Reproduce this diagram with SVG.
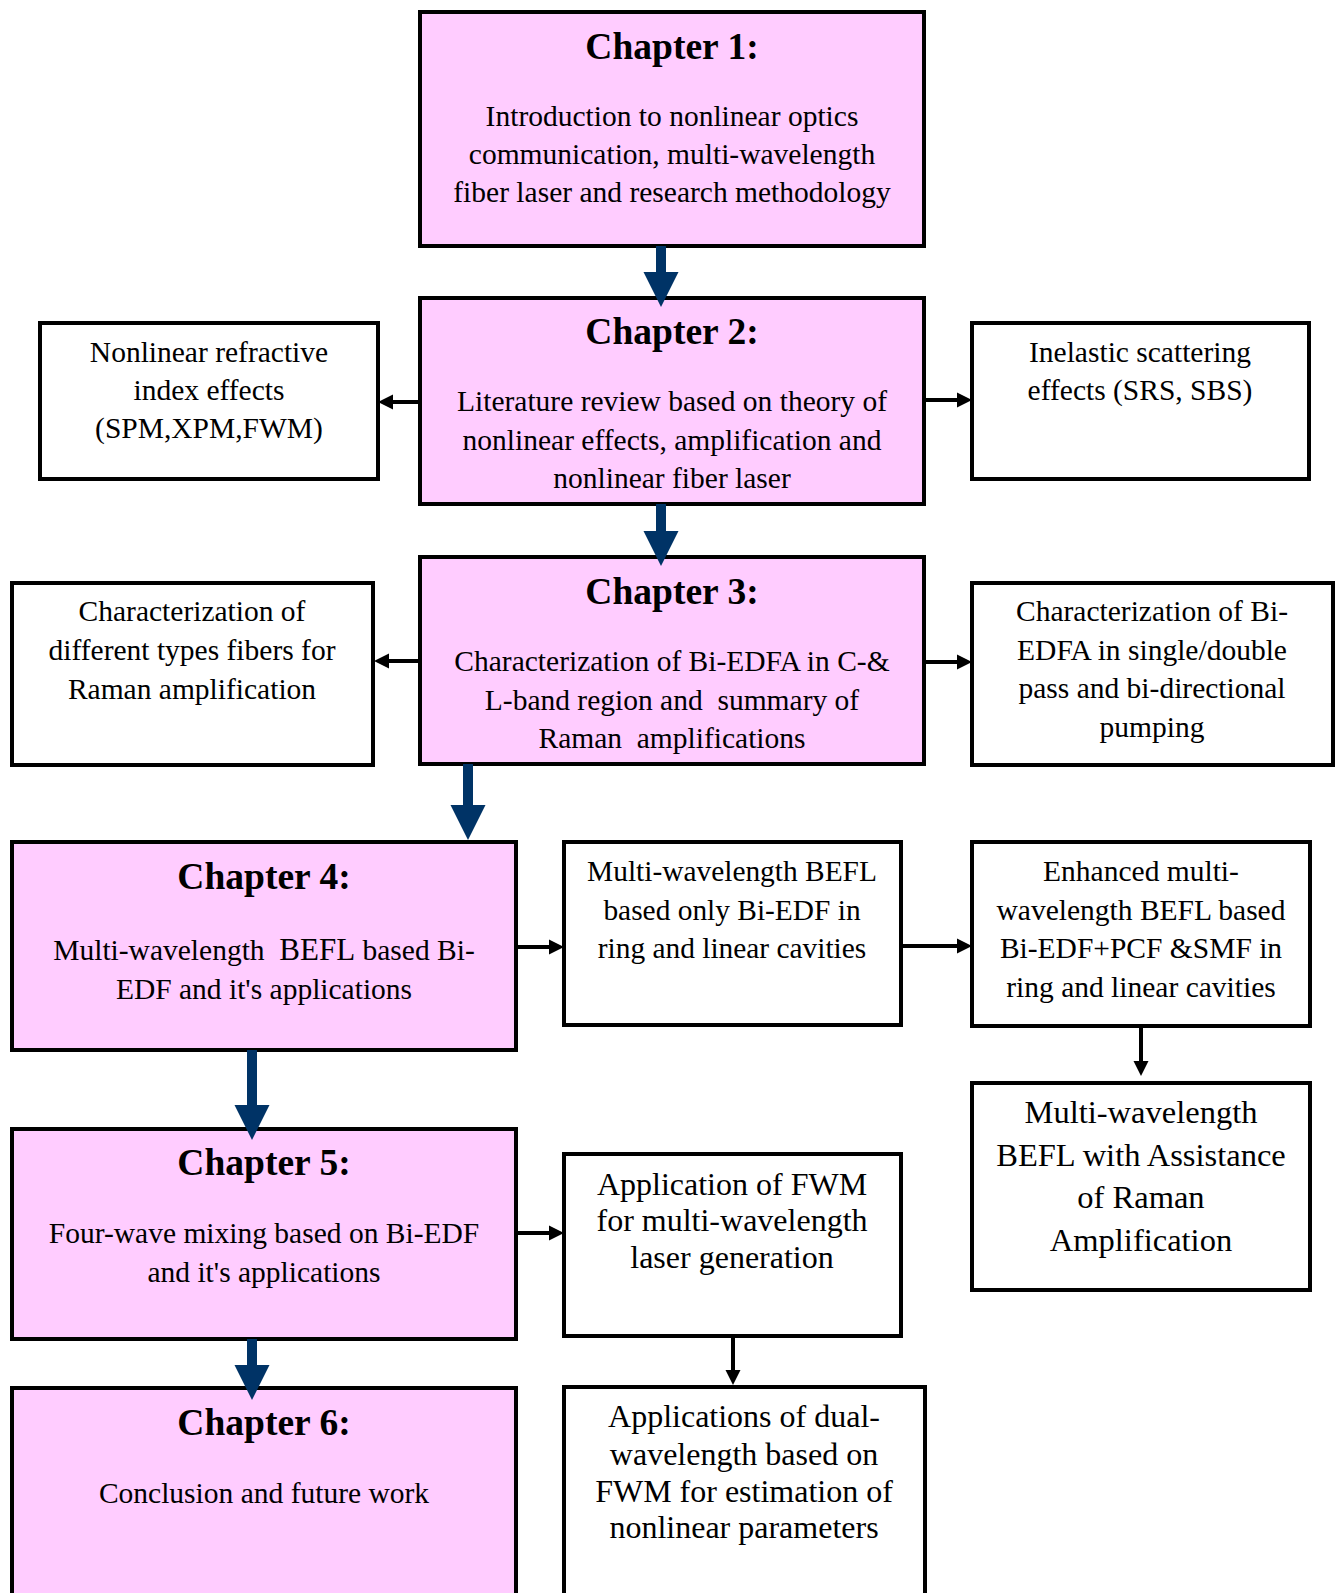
<svg xmlns="http://www.w3.org/2000/svg" width="1338" height="1593" viewBox="0 0 1338 1593">
<style>
.ch{fill:#FFCCFF;stroke:#000;stroke-width:4}
.bx{fill:#fff;stroke:#000;stroke-width:4}
text{font-family:"Liberation Serif","Times New Roman",serif;fill:#000;text-anchor:middle;white-space:pre}
.h{font-size:37.5px;font-weight:bold}
.t{font-size:29.5px}
.t28{font-size:29.4px}
.t30{font-size:32px}
.t33{font-size:32.5px}
.blk{stroke:#000;stroke-width:4;fill:none;marker-end:url(#ah)}
.blu{stroke:#003366;stroke-width:10;fill:none;marker-end:url(#bh)}
</style>
<defs>
<marker id="ah" markerUnits="userSpaceOnUse" markerWidth="16" markerHeight="16" refX="3" refY="7.5" orient="auto" overflow="visible">
<path d="M0,0 L15,7.5 L0,15 z" fill="#000"/>
</marker>
<marker id="bh" markerUnits="userSpaceOnUse" markerWidth="36" markerHeight="36" refX="1" refY="17.5" orient="auto" overflow="visible">
<path d="M0,0 L35,17.5 L0,35 z" fill="#003366"/>
</marker>
</defs>
<rect width="1338" height="1593" fill="#fff"/>

<g id="ch1">
<rect class="ch" x="420" y="12" width="504" height="234"/>
<text class="h" x="672" y="59">Chapter 1:</text>
<text class="t" x="672" y="126">Introduction to nonlinear optics</text>
<text class="t" x="672" y="164">communication, multi-wavelength</text>
<text class="t" x="672" y="202">fiber laser and research methodology</text>
</g>

<g id="ch2">
<rect class="ch" x="420" y="298" width="504" height="206"/>
<text class="h" x="672" y="344">Chapter 2:</text>
<text class="t" x="672" y="411">Literature review based on theory of</text>
<text class="t" x="672" y="450">nonlinear effects, amplification and</text>
<text class="t" x="672" y="488">nonlinear fiber laser</text>
</g>

<g id="nl-index">
<rect class="bx" x="40" y="323" width="338" height="156"/>
<text class="t" x="209" y="362">Nonlinear refractive</text>
<text class="t" x="209" y="400">index effects</text>
<text class="t" x="209" y="438">(SPM,XPM,FWM)</text>
</g>

<g id="inelastic">
<rect class="bx" x="972" y="323" width="337" height="156"/>
<text class="t" x="1140" y="362">Inelastic scattering</text>
<text class="t" x="1140" y="400">effects (SRS, SBS)</text>
</g>

<g id="ch3">
<rect class="ch" x="420" y="557" width="504" height="207"/>
<text class="h" x="672" y="604">Chapter 3:</text>
<text class="t" x="672" y="671">Characterization of Bi-EDFA in C-&amp;</text>
<text class="t" x="672" y="710">L-band region and  summary of</text>
<text class="t" x="672" y="748">Raman  amplifications</text>
</g>

<g id="fibers">
<rect class="bx" x="12" y="583" width="361" height="182"/>
<text class="t" x="192" y="621">Characterization of</text>
<text class="t" x="192" y="660">different types fibers for</text>
<text class="t" x="192" y="699">Raman amplification</text>
</g>

<g id="bi-edfa">
<rect class="bx" x="972" y="583" width="361" height="182"/>
<text class="t" x="1152" y="621">Characterization of Bi-</text>
<text class="t" x="1152" y="660">EDFA in single/double</text>
<text class="t" x="1152" y="698">pass and bi-directional</text>
<text class="t" x="1152" y="737">pumping</text>
</g>

<g id="ch4">
<rect class="ch" x="12" y="842" width="504" height="208"/>
<text class="h" x="264" y="889">Chapter 4:</text>
<text class="t" x="264" y="960">Multi-wavelength  <tspan font-size="31">BEFL</tspan> based Bi-</text>
<text class="t" x="264" y="999">EDF and it's applications</text>
</g>

<g id="befl">
<rect class="bx" x="564" y="842" width="337" height="183"/>
<text class="t28" x="732" y="881">Multi-wavelength BEFL</text>
<text class="t28" x="732" y="920">based only Bi-EDF in</text>
<text class="t28" x="732" y="958">ring and linear cavities</text>
</g>

<g id="enhanced">
<rect class="bx" x="972" y="842" width="338" height="184"/>
<text class="t" x="1141" y="881">Enhanced multi-</text>
<text class="t" x="1141" y="920">wavelength BEFL based</text>
<text class="t" x="1141" y="958">Bi-EDF+PCF &amp;SMF in</text>
<text class="t" x="1141" y="997">ring and linear cavities</text>
</g>

<g id="raman">
<rect class="bx" x="972" y="1083" width="338" height="207"/>
<text class="t33" x="1141" y="1123">Multi-wavelength</text>
<text class="t33" x="1141" y="1166">BEFL with Assistance</text>
<text class="t33" x="1141" y="1208">of Raman</text>
<text class="t33" x="1141" y="1251">Amplification</text>
</g>

<g id="ch5">
<rect class="ch" x="12" y="1129" width="504" height="210"/>
<text class="h" x="264" y="1175">Chapter 5:</text>
<text class="t" x="264" y="1243">Four-wave mixing based on Bi-EDF</text>
<text class="t" x="264" y="1282">and it's applications</text>
</g>

<g id="fwm">
<rect class="bx" x="564" y="1154" width="337" height="182"/>
<text class="t30" x="732" y="1195">Application of FWM</text>
<text class="t30" x="732" y="1231">for multi-wavelength</text>
<text class="t30" x="732" y="1268">laser generation</text>
</g>

<g id="ch6">
<rect class="ch" x="12" y="1388" width="504" height="230"/>
<text class="h" x="264" y="1435">Chapter 6:</text>
<text class="t" x="264" y="1503">Conclusion and future work</text>
</g>

<g id="dual">
<rect class="bx" x="564" y="1387" width="361" height="230"/>
<text class="t30" x="744" y="1427">Applications of dual-</text>
<text class="t30" x="744" y="1465">wavelength based on</text>
<text class="t30" x="744" y="1502">FWM for estimation of</text>
<text class="t30" x="744" y="1538">nonlinear parameters</text>
</g>

<g id="connectors">
<path class="blu" d="M661,246 V273"/>
<path class="blu" d="M661,504 V532"/>
<path class="blu" d="M468,764 V806"/>
<path class="blu" d="M252,1050 V1106"/>
<path class="blu" d="M252,1339 V1366"/>
<path class="blk" d="M420,402 H390"/>
<path class="blk" d="M924,400 H960"/>
<path class="blk" d="M420,661 H386"/>
<path class="blk" d="M924,662 H960"/>
<path class="blk" d="M516,947 H552"/>
<path class="blk" d="M901,946 H960"/>
<path class="blk" d="M1141,1026 V1064"/>
<path class="blk" d="M516,1233 H552"/>
<path class="blk" d="M733,1336 V1373"/>
</g>
</svg>
